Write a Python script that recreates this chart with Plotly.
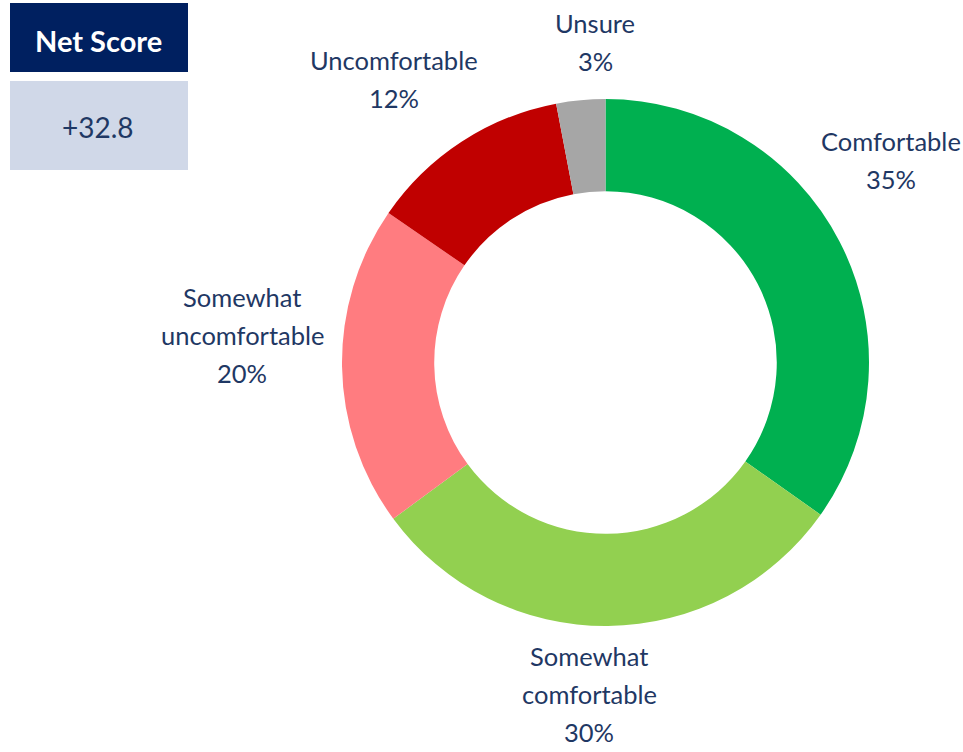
import plotly.graph_objects as go

categories = ["Comfortable", "Somewhat comfortable", "Somewhat uncomfortable", "Uncomfortable", "Unsure"]
label_lines = [["Comfortable"], ["Somewhat", "comfortable"], ["Somewhat", "uncomfortable"], ["Uncomfortable"], ["Unsure"]]
values = [34.8, 30.1, 19.7, 12.4, 3.0]
colors = ["#00B050", "#92D050", "#FF7C80", "#C00000", "#A6A6A6"]

net_score = values[0] + values[1] - values[2] - values[3]

W, H = 963, 752
TEXT = "#1F3864"
FONT = "Lato"
LINE_GAP = 38

fig = go.Figure(go.Pie(
    labels=categories,
    values=values,
    hole=0.65,
    sort=False,
    direction="clockwise",
    rotation=0,
    marker=dict(colors=colors, line=dict(width=0)),
    textinfo="none",
    hoverinfo="label+percent",
    domain=dict(x=[342 / W, 869 / W], y=[1 - 626 / H, 1 - 99 / H]),
    showlegend=False,
))

# label placement: (x center, y center of first line) in pixels
label_pos = [(891, 141), (589, 656), (242, 297), (394, 60), (595, 23)]
annotations = []
for lines, v, (px, py) in zip(label_lines, values, label_pos):
    for i, t in enumerate(lines + [f"{v:.0f}%"]):
        annotations.append(dict(
            x=px / W, y=1 - (py + i * LINE_GAP) / H, xref="paper", yref="paper",
            text=t, showarrow=False,
            font=dict(family=FONT, size=25.5, color=TEXT),
            xanchor="center", yanchor="middle", align="center",
        ))

annotations.append(dict(
    x=98 / W, y=1 - 40 / H, xref="paper", yref="paper",
    text="<b>Net Score</b>", showarrow=False,
    font=dict(family=FONT, size=29, color="white"),
    xanchor="center", yanchor="middle",
))
annotations.append(dict(
    x=98 / W, y=1 - 127 / H, xref="paper", yref="paper",
    text=f"+{net_score:.1f}", showarrow=False,
    font=dict(family=FONT, size=28, color=TEXT),
    xanchor="center", yanchor="middle",
))

shapes = [
    dict(type="rect", xref="paper", yref="paper",
         x0=10 / W, x1=188 / W, y0=1 - 72 / H, y1=1 - 3 / H,
         fillcolor="#002060", line=dict(width=0)),
    dict(type="rect", xref="paper", yref="paper",
         x0=10 / W, x1=188 / W, y0=1 - 170 / H, y1=1 - 81 / H,
         fillcolor="#D0D8E8", line=dict(width=0)),
]

fig.update_layout(
    width=W, height=H,
    margin=dict(l=0, r=0, t=0, b=0),
    paper_bgcolor="white",
    plot_bgcolor="white",
    annotations=annotations,
    shapes=shapes,
)

fig.write_html("out.html", config={"displayModeBar": False},
               post_script="document.body.style.margin='0';")
